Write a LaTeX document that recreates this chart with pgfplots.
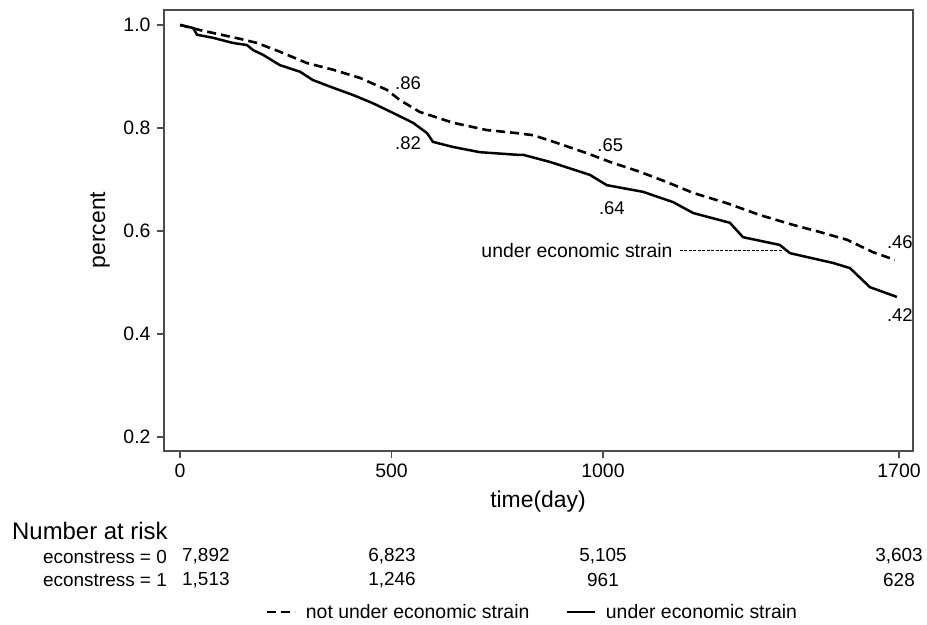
\documentclass[border=0pt]{standalone}
\usepackage{fontspec}
\setmainfont{Liberation Sans}
\usepackage{pgfplots}
\pgfplotsset{compat=1.18}

\newcommand{\ticksize}{\fontsize{19.5}{22}\selectfont}
\newcommand{\titlesize}{\fontsize{23}{26}\selectfont}
\newcommand{\annsize}{\fontsize{18.5}{21}\selectfont}
\newcommand{\risksize}{\fontsize{19}{22}\selectfont}

\begin{document}
\begin{tikzpicture}
\begin{axis}[
  scale only axis,
  width=749bp, height=441bp,
  xmin=-38, xmax=1733,
  ymin=0.173, ymax=1.029,
  xtick={0,500,1000,1700},
  ytick={0.2,0.4,0.6,0.8,1.0},
  tick pos=left,
  /pgf/number format/assume math mode=true,
  /pgf/number format/1000 sep={},
  yticklabel style={/pgf/number format/fixed, /pgf/number format/fixed zerofill,
    /pgf/number format/precision=1, xshift=-3bp},
  xticklabel style={yshift=-2bp},
  tick align=outside,
  major tick length=7bp,
  axis line style={line width=1.3bp, black!70},
  tick style={line width=1.3bp, black!70},
  ticklabel style={font=\ticksize},
  clip=false,
  legend columns=2,
  legend cell align=left,
  legend style={draw=none, fill=none, at={(0.135,-0.365)}, anchor=west,
    font=\fontsize{19.5}{22}\selectfont, inner sep=0pt,
    /tikz/every even column/.append style={column sep=34bp}},
  legend image code/.code={\draw[#1] (0bp,0bp) -- (28bp,0bp); \path (36bp,0bp);},
]

% not under economic strain (econstress = 0)
\addplot[black, line width=2.6bp, dash pattern=on 9bp off 5bp] coordinates {
  (0,1.000) (47,0.990) (142,0.973) (182,0.965) (236,0.948) (300,0.926)
  (362,0.913) (426,0.897) (489,0.874) (520,0.854) (567,0.831) (646,0.810)
  (725,0.796) (796,0.790) (835,0.786) (891,0.771) (962,0.751) (1017,0.734)
  (1087,0.715) (1151,0.695) (1213,0.674) (1293,0.654) (1371,0.631)
  (1449,0.612) (1513,0.598) (1577,0.583) (1638,0.559) (1690,0.544)
};
\addlegendentry{not under economic strain}

% under economic strain (econstress = 1)
\addplot[black, line width=2.5bp] coordinates {
  (0,1.000) (31,0.994) (40,0.981) (78,0.975) (125,0.965) (158,0.961)
  (173,0.951) (196,0.942) (236,0.922) (284,0.909) (314,0.893) (362,0.878)
  (409,0.864) (456,0.848) (504,0.829) (551,0.810) (584,0.790) (598,0.773)
  (646,0.763) (709,0.753) (796,0.748) (811,0.748) (875,0.734) (969,0.709)
  (1009,0.689) (1095,0.676) (1166,0.656) (1213,0.635) (1300,0.616)
  (1331,0.588) (1418,0.573) (1442,0.557) (1544,0.538) (1584,0.528)
  (1631,0.491) (1695,0.472)
};
\addlegendentry{under economic strain}

% value labels
\node[font=\annsize] at (axis cs:539,0.887) {.86};
\node[font=\annsize] at (axis cs:539,0.771) {.82};
\node[font=\annsize] at (axis cs:1017,0.767) {.65};
\node[font=\annsize] at (axis cs:1021,0.645) {.64};
\node[font=\annsize] at (axis cs:1702,0.579) {.46};
\node[font=\annsize] at (axis cs:1702,0.437) {.42};

% leader to the solid curve
\node[font=\ticksize, anchor=east, inner sep=0pt] at (axis cs:1165,0.563) {under economic strain};
\draw[black, line width=0.8bp, dash pattern=on 3bp off 1.5bp] (axis cs:1182,0.563) -- (axis cs:1423,0.563);

\end{axis}

% axis titles
\node[font=\titlesize, rotate=90] at (-64bp,221bp) {percent};
\node[font=\titlesize] at (374bp,-51bp) {time(day)};

% number at risk table
\node[font=\fontsize{24}{27}\selectfont, anchor=west, inner sep=0pt] at (-152bp,-79.5bp) {Number at risk};
\node[font=\risksize, anchor=west, inner sep=0pt] at (-121bp,-105.5bp) {econstress = 0};
\node[font=\risksize, anchor=west, inner sep=0pt] at (18bp,-105.5bp) {7,892};
\node[font=\risksize] at (228bp,-105.5bp) {6,823};
\node[font=\risksize] at (439bp,-105.5bp) {5,105};
\node[font=\risksize] at (735bp,-105.5bp) {3,603};
\node[font=\risksize, anchor=west, inner sep=0pt] at (-121bp,-129bp) {econstress = 1};
\node[font=\risksize, anchor=west, inner sep=0pt] at (18bp,-129bp) {1,513};
\node[font=\risksize] at (228bp,-129bp) {1,246};
\node[font=\risksize] at (439bp,-129bp) {961};
\node[font=\risksize] at (735bp,-129bp) {628};

\path[use as bounding box] (-164bp,-174bp) rectangle (763bp,451bp);
\end{tikzpicture}
\end{document}
